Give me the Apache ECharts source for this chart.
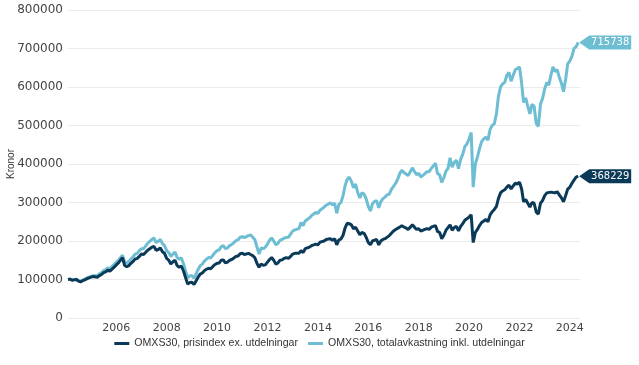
<!DOCTYPE html>
<html>
<head>
<meta charset="utf-8">
<script src="https://cdn.jsdelivr.net/npm/echarts@6/dist/echarts.min.js"></script>
<style>html,body{margin:0;padding:0;background:#fff}#c{width:639px;height:365px}</style>
</head>
<body>
<div id="c"></div>
<script>
// Monthly observations, first value = Feb 2004
const startYear = 2004;
const startMonth = 2;
const axisEnd = '2024-05-27';
const seriesNames = ['OMXS30, prisindex ex. utdelningar', 'OMXS30, totalavkastning inkl. utdelningar'];
const yTicks = [0, 100000, 200000, 300000, 400000, 500000, 600000, 700000, 800000];

const priceIndex = [
  100000, 101000, 98000, 99000, 100000, 96000, 94000, 97000, 99000, 102000, 104000,
  106000, 108000, 107000, 106000, 110000, 113000, 118000, 120000, 124000, 122000, 127000, 132000,
  138000, 143000, 148000, 157000, 137000, 133000, 136000, 142000, 147000, 153000, 155000, 160000,
  166000, 165000, 168000, 176000, 180000, 184000, 186000, 176000, 178000, 182000, 172000, 168000,
  155000, 150000, 140000, 146000, 150000, 136000, 132000, 135000, 122000, 105000, 88000, 92000,
  93000, 87000, 92000, 106000, 114000, 117000, 123000, 127000, 129000, 128000, 134000, 139000,
  142000, 143000, 150000, 151000, 143000, 145000, 150000, 152000, 156000, 160000, 161000, 167000,
  168000, 165000, 164000, 168000, 165000, 162000, 157000, 142000, 132000, 140000, 137000, 138000,
  145000, 152000, 157000, 150000, 140000, 143000, 150000, 151000, 155000, 157000, 155000, 160000,
  166000, 168000, 166000, 168000, 175000, 170000, 180000, 182000, 184000, 188000, 190000, 192000,
  190000, 197000, 198000, 200000, 204000, 205000, 206000, 202000, 206000, 190000, 203000, 205000,
  215000, 235000, 246000, 245000, 242000, 232000, 236000, 226000, 216000, 222000, 220000, 210000,
  196000, 190000, 200000, 202000, 204000, 190000, 200000, 204000, 206000, 210000, 214000, 220000,
  226000, 230000, 232000, 236000, 240000, 236000, 234000, 230000, 236000, 242000, 236000, 230000,
  232000, 226000, 222000, 230000, 232000, 230000, 236000, 238000, 240000, 225000, 222000, 206000,
  215000, 228000, 230000, 242000, 228000, 235000, 238000, 226000, 238000, 245000, 254000, 258000,
  262000, 268000, 196000, 222000, 230000, 240000, 248000, 252000, 256000, 250000, 268000, 276000,
  282000, 290000, 310000, 325000, 330000, 333000, 340000, 345000, 335000, 343000, 350000, 348000,
  353000, 335000, 302000, 308000, 298000, 288000, 300000, 298000, 275000, 270000, 298000, 305000,
  318000, 325000, 320000, 327000, 326000, 325000, 328000, 320000, 312000, 302000, 318000, 335000,
  340000, 350000, 358000, 366000, 368229
];

const totalReturn = [
  100000, 101000, 99000, 100000, 101000, 97000, 95000, 98000, 101000, 104000, 106000,
  108000, 110000, 110000, 110000, 115000, 118000, 123000, 126000, 130000, 128000, 134000, 139000,
  145000, 150000, 155000, 163000, 146000, 143000, 147000, 153000, 159000, 166000, 168000, 175000,
  180000, 180000, 184000, 194000, 199000, 204000, 208000, 196000, 199000, 204000, 193000, 188000,
  175000, 170000, 160000, 166000, 171000, 157000, 153000, 156000, 141000, 122000, 104000, 110000,
  110000, 103000, 108000, 126000, 136000, 140000, 148000, 153000, 157000, 156000, 163000, 170000,
  175000, 177000, 185000, 188000, 180000, 182000, 188000, 191000, 196000, 201000, 203000, 210000,
  211000, 209000, 208000, 214000, 216000, 210000, 204000, 185000, 166000, 182000, 180000, 184000,
  192000, 202000, 208000, 200000, 190000, 194000, 202000, 204000, 208000, 209000, 210000, 218000,
  226000, 229000, 226000, 232000, 248000, 240000, 252000, 256000, 260000, 266000, 270000, 274000,
  272000, 280000, 283000, 288000, 293000, 296000, 299000, 294000, 298000, 272000, 295000, 300000,
  318000, 345000, 360000, 366000, 355000, 338000, 348000, 326000, 312000, 325000, 322000, 310000,
  290000, 278000, 296000, 303000, 305000, 286000, 302000, 310000, 314000, 320000, 322000, 334000,
  342000, 350000, 360000, 375000, 384000, 378000, 374000, 370000, 380000, 390000, 380000, 372000,
  376000, 366000, 362000, 375000, 380000, 380000, 388000, 395000, 402000, 375000, 372000, 352000,
  365000, 382000, 388000, 416000, 392000, 404000, 410000, 388000, 412000, 425000, 445000, 452000,
  465000, 482000, 340000, 400000, 418000, 440000, 458000, 465000, 470000, 462000, 490000, 500000,
  505000, 530000, 575000, 600000, 608000, 612000, 630000, 638000, 615000, 630000, 645000, 648000,
  652000, 610000, 560000, 572000, 550000, 530000, 555000, 550000, 505000, 498000, 555000, 570000,
  595000, 612000, 605000, 630000, 652000, 640000, 645000, 625000, 610000, 588000, 620000, 660000,
  668000, 680000, 700000, 705000, 715738
];

const dates = priceIndex.map(function (_, i) {
  const m = startMonth - 1 + i;
  const y = startYear + Math.floor(m / 12);
  const mm = (m % 12) + 1;
  return y + '-' + (mm < 10 ? '0' : '') + mm + '-01';
});

const darkColor = '#0b3a59';
const lightColor = '#6dbdd3';

function pairs(vals) { return vals.map(function (v, i) { return [dates[i], v]; }); }

function tag(vals, color) {
  const last = vals.length - 1;
  return {
    symbol: 'path://M0,7 L10,0 L52,0 L52,14 L10,14 Z',
    symbolSize: [52, 14],
    symbolKeepAspect: false,
    symbolOffset: [27, 0],
    silent: true,
    itemStyle: { color: color },
    label: {
      show: true, position: 'inside', offset: [5, 0],
      color: '#fff', fontFamily: 'DejaVu Sans', fontSize: 10,
      formatter: function (p) { return String(p.value); }
    },
    data: [{ coord: [dates[last], vals[last]], value: vals[last] }]
  };
}

const chart = echarts.init(document.getElementById('c'), null, { renderer: 'canvas' });
chart.setOption({
  animation: false,
  backgroundColor: '#fff',
  grid: { left: 68, right: 59, top: 10, bottom: 47, containLabel: false, outerBoundsMode: 'none' },
  legend: {
    bottom: 11, left: 'center',
    itemWidth: 15, itemHeight: 3, itemGap: 10, icon: 'rect',
    textStyle: { fontFamily: 'Liberation Sans', fontSize: 10.6, color: '#333' },
    data: seriesNames
  },
  xAxis: {
    type: 'time',
    min: dates[0], max: axisEnd,
    splitNumber: 20,
    minInterval: 365 * 24 * 3600 * 1000,
    axisLine: { show: false },
    axisTick: { show: false },
    splitLine: { show: false },
    axisLabel: {
      margin: 5, color: '#444', fontFamily: 'DejaVu Sans', fontSize: 11,
      showMinLabel: false, showMaxLabel: false,
      formatter: function (val) {
        const d = new Date(val);
        if (d.getMonth() === 0 && d.getDate() === 1 && d.getFullYear() % 2 === 0) return String(d.getFullYear());
        return '';
      }
    }
  },
  yAxis: {
    type: 'value',
    min: yTicks[0], max: yTicks[yTicks.length - 1], interval: yTicks[1] - yTicks[0],
    name: 'Kronor', nameLocation: 'middle', nameGap: 52, nameRotate: 90,
    nameMoveOverlap: false,
    nameTextStyle: { fontFamily: 'Liberation Sans', fontSize: 10, color: '#333' },
    axisLine: { show: false }, axisTick: { show: false },
    splitLine: { lineStyle: { color: '#ebebeb', width: 1 } },
    axisLabel: {
      margin: 5, color: '#444', fontFamily: 'DejaVu Sans', fontSize: 12,
      formatter: function (v) { return String(v); }
    }
  },
  series: [
    {
      name: seriesNames[1], type: 'line', data: pairs(totalReturn),
      showSymbol: false, symbol: 'none', clip: false, z: 2,
      lineStyle: { color: lightColor, width: 3 }, itemStyle: { color: lightColor },
      markPoint: tag(totalReturn, lightColor)
    },
    {
      name: seriesNames[0], type: 'line', data: pairs(priceIndex),
      showSymbol: false, symbol: 'none', clip: false, z: 3,
      lineStyle: { color: darkColor, width: 3 }, itemStyle: { color: darkColor },
      markPoint: tag(priceIndex, darkColor)
    }
  ]
});
</script>
</body>
</html>
